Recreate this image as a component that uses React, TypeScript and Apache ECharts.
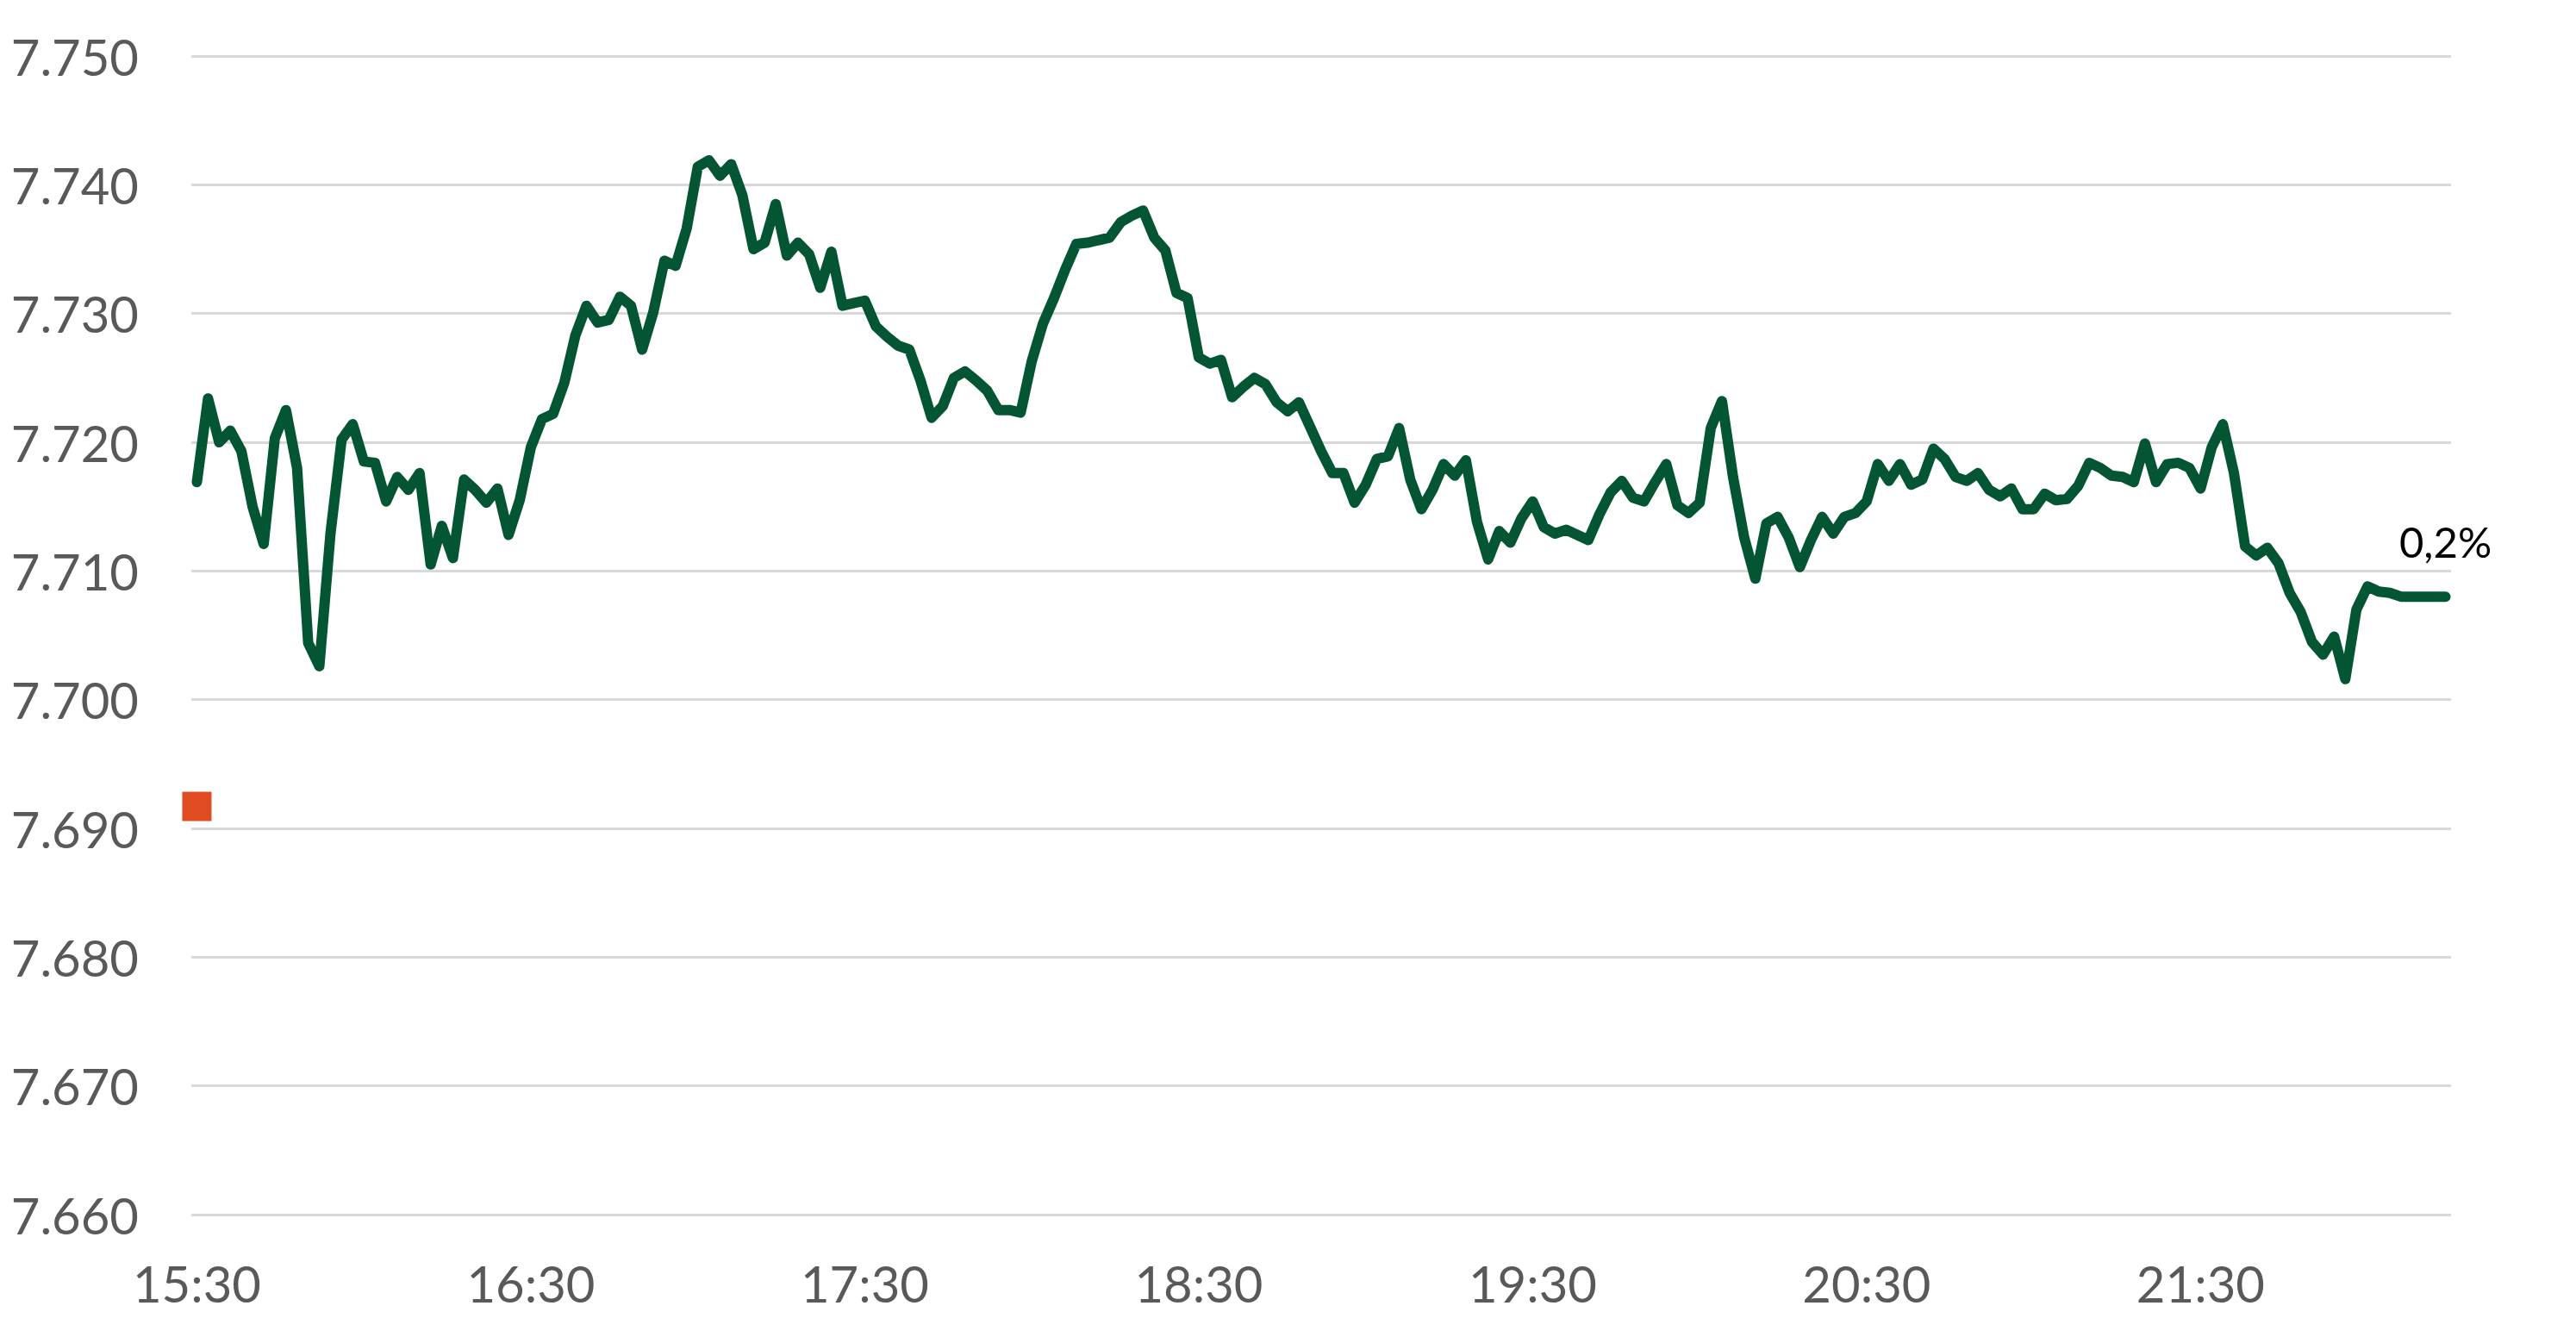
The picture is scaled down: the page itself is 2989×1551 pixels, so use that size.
import React, { useEffect, useRef } from "react";
import * as echarts from "echarts";

// Time axis
const startTime = "15:30";
const stepMinutes = 2;
const timeTickLabels = ["15:30", "16:30", "17:30", "18:30", "19:30", "20:30", "21:30"];

// Index level every 2 minutes from 15:30
const indexValues = [
  7716.9, 7723.4, 7720.0, 7720.9, 7719.3, 7715.0, 7712.1, 7720.3, 7722.5, 7718.0,
  7704.4, 7702.6, 7712.9, 7720.2, 7721.4, 7718.5, 7718.4, 7715.4, 7717.3, 7716.3,
  7717.6, 7710.5, 7713.5, 7711.0, 7717.1, 7716.3, 7715.3, 7716.4, 7712.8, 7715.5,
  7719.6, 7721.8, 7722.2, 7724.6, 7728.3, 7730.6, 7729.3, 7729.5, 7731.3, 7730.6,
  7727.2, 7730.1, 7734.1, 7733.7, 7736.6, 7741.4, 7741.9, 7740.7, 7741.6, 7739.2,
  7735.0, 7735.5, 7738.5, 7734.5, 7735.5, 7734.6, 7732.0, 7734.8, 7730.6, 7730.8,
  7731.0, 7729.0, 7728.2, 7727.5, 7727.2, 7724.8, 7721.9, 7722.8, 7725.0, 7725.5,
  7724.8, 7724.0, 7722.5, 7722.5, 7722.3, 7726.3, 7729.2, 7731.2, 7733.4, 7735.4,
  7735.5, 7735.7, 7735.9, 7737.1, 7737.6, 7738.0, 7735.9, 7734.9, 7731.6, 7731.2,
  7726.6, 7726.1, 7726.4, 7723.5, 7724.3, 7725.0, 7724.5, 7723.1, 7722.4, 7723.1,
  7721.2, 7719.3, 7717.6, 7717.6, 7715.3, 7716.7, 7718.7, 7718.9, 7721.1, 7717.1,
  7714.8, 7716.3, 7718.3, 7717.4, 7718.6, 7713.8, 7710.9, 7713.1, 7712.2, 7714.1,
  7715.4, 7713.4, 7712.9, 7713.2, 7712.8, 7712.4, 7714.4, 7716.1, 7717.0, 7715.7,
  7715.4, 7716.9, 7718.3, 7715.1, 7714.5, 7715.3, 7721.1, 7723.2, 7717.3, 7712.6,
  7709.4, 7713.7, 7714.2, 7712.6, 7710.3, 7712.4, 7714.2, 7712.9, 7714.2, 7714.5,
  7715.4, 7718.3, 7717.0, 7718.3, 7716.7, 7717.1, 7719.5, 7718.7, 7717.3, 7717.0,
  7717.6, 7716.3, 7715.8, 7716.4, 7714.8, 7714.8, 7716.0, 7715.5, 7715.6, 7716.6,
  7718.4, 7718.0, 7717.4, 7717.3, 7716.9, 7719.9, 7716.9, 7718.3, 7718.4, 7718.0,
  7716.4, 7719.6, 7721.4, 7717.6, 7711.9, 7711.2, 7711.8, 7710.6, 7708.3, 7706.8,
  7704.5, 7703.5, 7704.9, 7701.6, 7707.0, 7708.8, 7708.4, 7708.3, 7708.0, 7708.0,
  7708.0, 7708.0, 7708.0,
];

// Previous close marker
const previousClose = 7691.7;

// Value axis
const yMin = 7660;
const yMax = 7750;
const yStep = 10;

const toMinutes = (s: string) => {
  const [h, m] = s.split(":").map(Number);
  return h * 60 + m;
};
const startMin = toMinutes(startTime);
const fmtTime = (m: number) => {
  const t = startMin + Math.round(m);
  const hh = Math.floor(t / 60);
  const mm = t % 60;
  return `${hh}:${String(mm).padStart(2, "0")}`;
};
const fmtThousands = (v: number) => {
  const s = String(Math.round(v));
  return s.length > 3 ? s.slice(0, -3) + "." + s.slice(-3) : s;
};

export default function App() {
  const ref = useRef<HTMLDivElement>(null);

  useEffect(() => {
    if (!ref.current) return;
    const chart = echarts.init(ref.current, undefined, { renderer: "svg" });

    const points = indexValues.map((v, i) => [i * stepMinutes, v]);
    const last = points[points.length - 1];
    const pct = ((indexValues[indexValues.length - 1] - previousClose) / previousClose) * 100;
    const pctText = pct.toFixed(1).replace(".", ",") + "%";
    const xTicks = timeTickLabels.map((l) => toMinutes(l) - startMin);
    const lastMinute = (indexValues.length - 1) * stepMinutes;

    const labelFont = "Lato, 'Open Sans', sans-serif";

    chart.setOption({
      animation: false,
      backgroundColor: "#ffffff",
      grid: {
        left: 222,
        right: 145,
        top: 65,
        bottom: 142,
        containLabel: false,
        outerBoundsMode: "none",
      },
      xAxis: {
        type: "value",
        min: -1,
        max: lastMinute + 1,
        axisLine: { show: false },
        axisTick: { show: false },
        splitLine: { show: false },
        axisLabel: {
          customValues: xTicks,
          formatter: (v: number) => fmtTime(v),
          color: "#595959",
          fontSize: 58,
          fontFamily: labelFont,
          margin: 50,
          showMinLabel: true,
          showMaxLabel: true,
        },
      },
      yAxis: {
        type: "value",
        min: yMin,
        max: yMax,
        interval: yStep,
        axisLine: { show: false },
        axisTick: { show: false },
        axisLabel: {
          formatter: (v: number) => fmtThousands(v),
          color: "#595959",
          fontSize: 58,
          fontFamily: labelFont,
          margin: 61,
        },
        splitLine: { lineStyle: { color: "#D9D9D9", width: 3 } },
      },
      series: [
        {
          type: "line",
          data: points,
          showSymbol: false,
          symbol: "none",
          silent: true,
          lineStyle: { color: "#035533", width: 12, cap: "round", join: "round" },
          markPoint: {
            symbol: "circle",
            symbolSize: 0,
            silent: true,
            label: {
              show: true,
              formatter: pctText,
              position: "top",
              distance: 40,
              offset: [0, 0],
              color: "#000000",
              fontSize: 49,
              fontFamily: labelFont,
            },
            data: [{ coord: last }],
          },
        },
        {
          type: "scatter",
          data: [[0, previousClose]],
          symbol: "rect",
          symbolSize: 34,
          silent: true,
          itemStyle: { color: "#E04B22", opacity: 1 },
        },
      ],
    });

    return () => chart.dispose();
  }, []);

  return (
    <div
      ref={ref}
      style={{ position: "fixed", left: 0, top: 0, width: "100vw", height: "100vh", background: "#fff" }}
    />
  );
}
